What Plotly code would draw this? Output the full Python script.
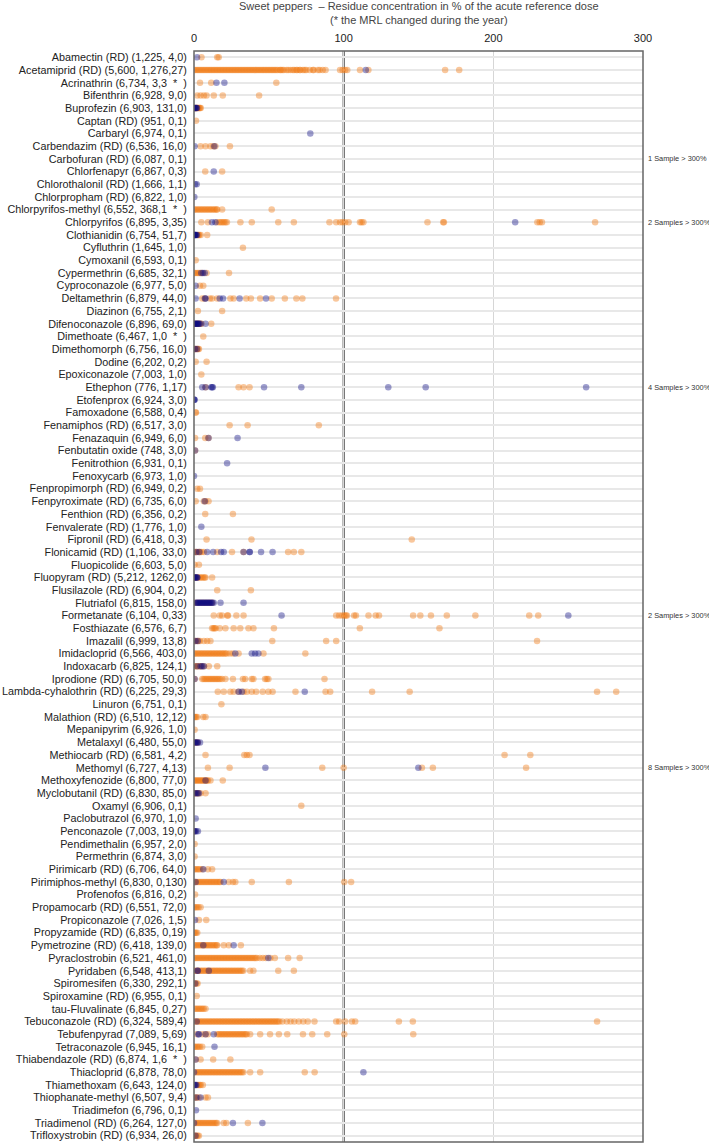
import plotly.graph_objects as go

S = "\u00a0"

categories = [
    "Abamectin (RD) (1,225, 4,0)",
    "Acetamiprid (RD) (5,600, 1,276,27)",
    "Acrinathrin (6,734, 3,3" + S*2 + "*" + S*2 + ")",
    "Bifenthrin (6,928, 9,0)",
    "Buprofezin (6,903, 131,0)",
    "Captan (RD) (951, 0,1)",
    "Carbaryl (6,974, 0,1)",
    "Carbendazim (RD) (6,536, 16,0)",
    "Carbofuran (RD) (6,087, 0,1)",
    "Chlorfenapyr (6,867, 0,3)",
    "Chlorothalonil (RD) (1,666, 1,1)",
    "Chlorpropham (RD) (6,822, 1,0)",
    "Chlorpyrifos-methyl (6,552, 368,1" + S*2 + "*" + S*2 + ")",
    "Chlorpyrifos (6,895, 3,35)",
    "Clothianidin (6,754, 51,7)",
    "Cyfluthrin (1,645, 1,0)",
    "Cymoxanil (6,593, 0,1)",
    "Cypermethrin (6,685, 32,1)",
    "Cyproconazole (6,977, 5,0)",
    "Deltamethrin (6,879, 44,0)",
    "Diazinon (6,755, 2,1)",
    "Difenoconazole (6,896, 69,0)",
    "Dimethoate (6,467, 1,0" + S*2 + "*" + S*2 + ")",
    "Dimethomorph (6,756, 16,0)",
    "Dodine (6,202, 0,2)",
    "Epoxiconazole (7,003, 1,0)",
    "Ethephon (776, 1,17)",
    "Etofenprox (6,924, 3,0)",
    "Famoxadone (6,588, 0,4)",
    "Fenamiphos (RD) (6,517, 3,0)",
    "Fenazaquin (6,949, 6,0)",
    "Fenbutatin oxide (748, 3,0)",
    "Fenitrothion (6,931, 0,1)",
    "Fenoxycarb (6,973, 1,0)",
    "Fenpropimorph (RD) (6,949, 0,2)",
    "Fenpyroximate (RD) (6,735, 6,0)",
    "Fenthion (RD) (6,356, 0,2)",
    "Fenvalerate (RD) (1,776, 1,0)",
    "Fipronil (RD) (6,418, 0,3)",
    "Flonicamid (RD) (1,106, 33,0)",
    "Fluopicolide (6,603, 5,0)",
    "Fluopyram (RD) (5,212, 1262,0)",
    "Flusilazole (RD) (6,904, 0,2)",
    "Flutriafol (6,815, 158,0)",
    "Formetanate (6,104, 0,33)",
    "Fosthiazate (6,576, 6,7)",
    "Imazalil (6,999, 13,8)",
    "Imidacloprid (6,566, 403,0)",
    "Indoxacarb (6,825, 124,1)",
    "Iprodione (RD) (6,705, 50,0)",
    "Lambda-cyhalothrin (RD) (6,225, 29,3)",
    "Linuron (6,751, 0,1)",
    "Malathion (RD) (6,510, 12,12)",
    "Mepanipyrim (6,926, 1,0)",
    "Metalaxyl (6,480, 55,0)",
    "Methiocarb (RD) (6,581, 4,2)",
    "Methomyl (6,727, 4,13)",
    "Methoxyfenozide (6,800, 77,0)",
    "Myclobutanil (RD) (6,830, 85,0)",
    "Oxamyl (6,906, 0,1)",
    "Paclobutrazol (6,970, 1,0)",
    "Penconazole (7,003, 19,0)",
    "Pendimethalin (6,957, 2,0)",
    "Permethrin (6,874, 3,0)",
    "Pirimicarb (RD) (6,706, 64,0)",
    "Pirimiphos-methyl (6,830, 0,130)",
    "Profenofos (6,816, 0,2)",
    "Propamocarb (RD) (6,551, 72,0)",
    "Propiconazole (7,026, 1,5)",
    "Propyzamide (RD) (6,835, 0,19)",
    "Pymetrozine (RD) (6,418, 139,0)",
    "Pyraclostrobin (6,521, 461,0)",
    "Pyridaben (6,548, 413,1)",
    "Spiromesifen (6,330, 292,1)",
    "Spiroxamine (RD) (6,955, 0,1)",
    "tau-Fluvalinate (6,845, 0,27)",
    "Tebuconazole (RD) (6,324, 589,4)",
    "Tebufenpyrad (7,089, 5,69)",
    "Tetraconazole (6,945, 16,1)",
    "Thiabendazole (RD) (6,874, 1,6" + S*2 + "*" + S*2 + ")",
    "Thiacloprid (6,878, 78,0)",
    "Thiamethoxam (6,643, 124,0)",
    "Thiophanate-methyl (6,507, 9,4)",
    "Triadimefon (6,796, 0,1)",
    "Triadimenol (RD) (6,264, 127,0)",
    "Trifloxystrobin (RD) (6,934, 26,0)",
]

# residue concentration (% ARfD) of samples, orange series, one list per category
orange_values = [
    [5, 15.5, 16.5],
    [0, 1, 2, 3, 4, 5, 6, 7, 8, 9, 10, 11, 12, 13, 14, 15, 16, 17, 18, 19, 20, 21, 22, 23, 24, 25, 26, 27,
     28, 29, 30, 31, 32, 33, 34, 35, 36, 37, 38, 39, 40, 41, 42, 43, 44, 45, 46, 47, 48, 49, 50, 51, 52, 53,
     54, 55, 56, 57.4, 58, 59, 60, 61.8, 63, 64.5, 66, 67, 68.4, 69, 70.6, 71, 72.8, 74, 75, 77.3, 79.5, 80,
     82.8, 84, 86, 87.9, 97.6, 99.3, 101, 102.4, 110.9, 116.5, 167.8, 177.2],
    [4, 11.5, 55],
    [2.2, 4.4, 6.6, 8.4, 13.2, 19.2, 43.5],
    [0.5, 1, 1.5, 2, 2.5, 3, 3.5, 4, 4.5],
    [1.3],
    [],
    [4.4, 7.7, 11, 13, 14.3, 24],
    [],
    [7.5, 18.8],
    [],
    [],
    [0, 1, 2, 3, 4, 5, 6, 7, 8, 9, 10, 11, 12, 13, 14, 15, 15.5, 18.8, 51.9],
    [4.9, 9.3, 15.5, 17, 18, 19, 20, 21, 22, 31, 38.6, 56.3, 66.7, 90.5, 95, 97.6, 99.3, 101, 103.3, 110.9,
     112, 113.2, 156, 166.5, 167, 229.4, 231, 232.5, 268],
    [2.5, 3, 3.5, 4.5, 8.8],
    [32.7],
    [1.1],
    [0, 1, 2, 3, 4, 5.5, 8.4, 23.4],
    [4, 6.2],
    [5.5, 7.3, 10.6, 12.1, 15.5, 24.3, 26.5, 34.9, 38, 44.2, 51.9, 60.7, 68.4, 72.4, 94.9],
    [2.6, 18.8],
    [1, 2, 3, 4, 5, 11.5],
    [6.2],
    [0, 0.7, 1.4, 2.1, 2.8, 3.3],
    [1.1, 8.4],
    [4.9],
    [7.7, 29.8, 33.1, 37.1],
    [],
    [1.0, 1.3],
    [23.8, 35.8, 83.4],
    [0.7, 7.5, 9.7],
    [0.7],
    [],
    [],
    [2.2, 4],
    [1.1, 6.6, 7.7, 9.7],
    [7.5, 26],
    [],
    [8.4, 38.4, 145.5],
    [0, 1, 2, 3, 4, 5, 6.6, 15.5, 25.4, 33.1, 62.9, 66.7, 71.7],
    [0.4, 3.3],
    [0, 1, 2, 3, 4, 5, 6, 7, 7.7, 12.1],
    [15.5, 38],
    [0, 2, 4, 6, 8, 10, 12],
    [13.2, 17.2, 18.8, 22.3, 22.7, 28.3, 33.1, 95, 97, 98.9, 100.4, 101.5, 102.2, 107, 108.2, 116.6, 121.4,
     123.6, 146.4, 151.2, 158.3, 168.9, 188, 224, 230],
    [12.1, 13, 13.7, 14.5, 17.2, 21, 26.5, 30.9, 36.4, 39.7, 53.4, 110.8, 164],
    [0, 1, 2, 3, 4, 6.6, 8.8, 11, 52.3, 88.3, 95, 229.2],
    [0, 1, 2, 3, 4, 5, 6, 7, 8, 9, 10, 11, 12, 13, 14, 15, 16, 17, 18, 19, 20, 21, 22, 24, 26, 29.8, 46.4,
     74.4],
    [0, 1, 2, 3, 4, 5, 6.6, 9.9, 15.5],
    [0.4, 5.5, 6.5, 7.5, 8.5, 9.5, 10.5, 11.5, 12.5, 13.5, 14.5, 15.5, 16.5, 17.5, 18.8, 21, 26, 32.7, 34.2,
     38.6, 39.7, 47.5, 48.6, 49.7, 87.2],
    [15.9, 19.9, 24.3, 26.5, 29.8, 33.1, 35.3, 38.6, 41.5, 45.9, 49.7, 52.5, 67.8, 87.9, 91, 119, 144.1,
     269.3, 282.1],
    [18.3],
    [0, 0.7, 1.4, 2.2, 6.2, 7.7],
    [0.4],
    [0.5, 1.5, 2.5],
    [7.7, 33.6, 35.3, 37.1, 207.5, 224.7],
    [9.3, 23.8, 85.7, 100, 152.3, 159.6, 221.9],
    [0, 0.8, 1.6, 2.4, 3.2, 4, 4.8, 5.6, 6.4, 7.2, 8, 8.7, 9.3, 11, 19.2],
    [0, 1, 2, 3, 4.4, 7.7],
    [71.7],
    [],
    [0.3],
    [0.4],
    [0.4],
    [0, 1, 2, 3, 4, 5.5, 9.3, 12.1],
    [0, 1, 2, 3, 4, 5, 6, 7, 8, 9, 10, 11, 12, 13, 14, 15, 16, 17, 17.7, 23.2, 26, 27.6, 38.6, 63.4, 100.4,
     105],
    [0.7],
    [0, 1, 2, 3, 4.4],
    [3.3, 8.2],
    [0, 0.7, 1.4, 2.2],
    [0, 1, 2, 3, 4, 5, 6, 7, 8, 9, 10, 11, 12, 13, 14, 15, 15.5, 19.9, 23.2, 31.3],
    [0, 1, 2, 3, 4, 5, 6, 7, 8, 9, 10, 11, 12, 13, 14, 15, 16, 17, 18, 19, 20, 21, 22, 23, 24, 25, 26, 27,
     28, 29, 30, 31, 32, 33, 34, 35, 36, 37, 38, 39, 40, 41, 42, 44, 46, 48, 51, 54, 62.9, 70.6],
    [0, 1, 2, 3, 4, 5, 6, 7, 8, 9, 10, 11, 12, 13, 14, 15, 16, 17, 18, 19, 20, 21, 22, 23, 24, 25, 26, 27,
     28, 29, 30, 31, 32, 33, 37.5, 39.7, 56.3, 66.7],
    [0, 0.8, 1.6, 2.4],
    [1.8],
    [0.5, 1.5, 2.5, 3.5, 4.5, 5.5, 6.5, 7.7],
    [0, 1, 2, 3, 4, 5, 6, 7, 8, 9, 10, 11, 12, 13, 14, 15, 16, 17, 18, 19, 20, 21, 22, 23, 24, 25, 26, 27,
     28, 29, 30, 31, 32, 33, 34, 35, 36, 37, 38, 39, 40, 41, 42, 43, 44, 45, 46, 47, 48, 49, 50, 51, 52, 53,
     54, 55, 56, 57, 59, 62, 64.5, 67, 70, 73, 76, 80.5, 95, 97, 101, 105.5, 107.7, 136.9, 146.2, 269.3],
    [1.8, 5.5, 7.7, 9.3, 15.5, 16.5, 17.5, 18.5, 19.5, 20.5, 21.5, 22.5, 23.5, 24.5, 25.5, 26.5, 27.5, 28.5,
     29.5, 30.5, 31.5, 32.5, 33.5, 34.5, 35.3, 37.5, 44.2, 50.8, 56.7, 62.3, 72.8, 79, 89, 100.4, 146.5],
    [0, 1, 2, 3, 4, 5.5],
    [1.1, 4.4, 12.8, 24.3],
    [1, 2, 3, 4, 5, 6, 7, 8, 9, 10, 11, 12, 13, 14, 15, 16, 17, 18, 19, 20, 21, 22, 23, 24, 25, 26, 27, 28,
     29, 30, 31, 32, 33, 37.5, 44.2, 74, 80.6],
    [2.2, 3, 3.8, 4.5, 5.9],
    [0, 1, 2, 3.3, 7.7, 9.3],
    [],
    [0.7, 1.7, 2.7, 3.7, 4.7, 5.7, 6.7, 7.7, 8.7, 9.7, 10.7, 11.7, 12.7, 13.7, 14.7, 15.5, 19.9, 21.6, 36],
    [0, 0.8, 1.6, 2.4, 3.3],
]

# blue series, one list per category
blue_values = [
    [2], [114.8], [15, 20.3], [], [0, 0.4, 0.8, 1.2, 1.6, 2], [], [77.7], [0.4, 13.6], [], [13.2],
    [0.7, 1.8], [0.2], [], [12, 14.3, 214.6], [0, 0.3, 0.5, 0.8, 1, 1.5, 2], [], [],
    [4.8, 6, 7.2], [1.1], [1.1, 7.3, 7.8, 17.2, 19.4, 30.5, 48.1], [],
    [0, 0.5, 1, 1.5, 2, 2.5, 3, 3.5, 4.4, 7.7], [], [0.7, 2], [], [],
    [5.5, 7.7, 11.5, 12.1, 12.6, 46.8, 71.7, 129.8, 154.8, 262], [0, 0.2, 0.4], [], [], [9.7, 29.1],
    [0.7], [22.1], [0], [], [7.2], [], [4.9], [],
    [1.5, 3.5, 8.8, 12.8, 18.1, 19.9, 33.1, 37.1, 37.3, 44.8, 52.5], [], [0, 0.5, 1, 1.5, 2, 2.2], [],
    [1.1, 1.8, 2.5, 3.2, 3.9, 4.6, 5.3, 6, 6.7, 7.4, 8.1, 8.8, 9.5, 10.2, 10.9, 11.6, 12.3, 13.2, 17.7, 33.1],
    [58.5, 250.1], [], [1, 2.5], [27.6, 38.6, 40.8, 43], [2, 4.4, 5.5, 6.6], [0.4], [29.8, 32, 74], [],
    [], [], [0, 0.7, 1.4, 2.1, 2.6, 4], [], [47.7, 149.9], [7.7], [0.5, 1.5, 2.5, 3.3], [], [1.1],
    [0, 0.7, 1.4, 2.6], [], [], [6.2], [1.1, 19.9], [], [], [0.7], [], [6.2, 26.5], [49.7],
    [2.2, 2.6, 9.9], [0.8], [], [], [1.8], [2.9, 3.3, 7.7, 13.2], [13.7], [1.1], [0, 113.2],
    [0, 0.5, 1, 1.6], [1.5, 4.4], [1.3], [0, 26, 45.7], [1],
]

over_300_rows = [8, 13, 26, 44, 56]
over_300_text = ["1 Sample > 300%", "2 Samples > 300%", "4 Samples > 300%",
                 "2 Samples > 300%", "8 Samples > 300%"]

x_ticks = [0, 100, 200, 300]
title_text = ("Sweet peppers " + S + "\u2013 Residue concentration in % of the acute reference dose"
              "<br>(* the MRL changed during the year)")

ox, oy, bx, by = [], [], [], []
for cat, vals in zip(categories, orange_values):
    for v in vals:
        ox.append(v)
        oy.append(cat)
for cat, vals in zip(categories, blue_values):
    for v in vals:
        bx.append(v)
        by.append(cat)

fig = go.Figure()
fig.add_trace(go.Scatter(x=ox, y=oy, mode="markers",
                         marker=dict(size=6.5, color="rgb(240,122,18)", opacity=0.42, line=dict(width=0)),
                         hoverinfo="x+y"))
fig.add_trace(go.Scatter(x=bx, y=by, mode="markers",
                         marker=dict(size=6.5, color="rgb(10,10,130)", opacity=0.4, line=dict(width=0)),
                         hoverinfo="x+y"))

fig.update_layout(
    width=709, height=1144,
    margin=dict(l=190, r=66, t=51, b=2),
    plot_bgcolor="white", paper_bgcolor="white",
    showlegend=False,
    font=dict(family="Liberation Sans, Arial, sans-serif", color="#222"),
    xaxis=dict(side="top", range=[0, 300], tickvals=x_ticks, ticktext=[str(t) for t in x_ticks],
               showgrid=True, gridcolor="#d6d6d6", gridwidth=1, zeroline=False,
               tickfont=dict(size=11, color="#222"), ticks="outside", ticklen=4,
               tickcolor="rgba(0,0,0,0)", showline=False, fixedrange=True),
    yaxis=dict(type="category", categoryorder="array", categoryarray=categories,
               tickmode="array", tickvals=categories, ticktext=categories,
               range=[len(categories) - 0.5, -0.5], showgrid=True, gridcolor="#e8e8e8", gridwidth=2,
               zeroline=False, tickfont=dict(size=10.8, color="#222"), ticks="outside", ticklen=4,
               tickcolor="rgba(0,0,0,0)", showline=False, fixedrange=True),
    shapes=[
        dict(type="line", xref="x", yref="paper", x0=100, x1=100, y0=0, y1=1,
             line=dict(color="#333", width=2), layer="between"),
        dict(type="rect", xref="paper", yref="paper", x0=0, x1=1, y0=0, y1=1,
             line=dict(color="#666", width=1.5)),
    ],
)

annotations = [dict(xref="paper", yref="paper", x=0.5, y=(1142 - 13) / 1091, xanchor="center",
                    yanchor="middle", text=title_text, showarrow=False,
                    font=dict(size=11, color="#444"))]
for idx, txt in zip(over_300_rows, over_300_text):
    annotations.append(dict(xref="paper", yref="y", x=1.006, y=categories[idx], xanchor="left",
                            yanchor="middle", text=txt, showarrow=False,
                            font=dict(size=7.4, color="#333")))
fig.update_layout(annotations=annotations)

fig.write_html("out.html", config={"displayModeBar": False},
               post_script="document.body.style.margin='0';document.body.style.overflow='hidden';")
